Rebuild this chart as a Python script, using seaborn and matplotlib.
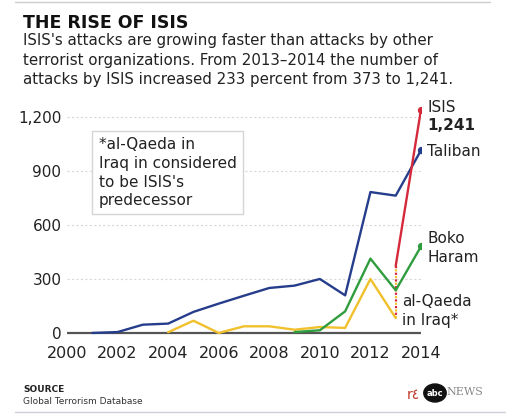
#!/usr/bin/env python3

import pandas as pd
import seaborn as sns
import matplotlib.pyplot as plt
from matplotlib.patches import Circle
from matplotlib.lines import Line2D

# attacks per year
taliban_years = [2001, 2002, 2003, 2004, 2005, 2006, 2007, 2008, 2009, 2010, 2011, 2012, 2013, 2014]
taliban = [0, 5, 46, 52, 117, 163, 207, 250, 263, 300, 209, 783, 763, 1015]

boko_years = [2009, 2010, 2011, 2012, 2013, 2014]
boko = [5, 15, 120, 413, 237, 481]

aqi_years = [2004, 2005, 2006, 2007, 2008, 2009, 2010, 2011, 2012, 2013]
aqi = [4, 68, 0, 37, 37, 18, 33, 28, 300, 83]

isis_years = [2013, 2014]
isis = [373, 1241]

x_ticks = [2000, 2002, 2004, 2006, 2008, 2010, 2012, 2014]
y_ticks = [0, 300, 600, 900, 1200]
y_labels = ['0', '300', '600', '900', '1,200']

BLUE = '#263d8c'
RED = '#d42a3c'
GREEN = '#2f9d3e'
YELLOW = '#f0c02d'


def make_plot():
    sns.set_style('white')
    plt.rcParams['font.family'] = ['DejaVu Sans']

    fig = plt.figure(figsize=(5.2, 4.18), dpi=100)
    ax = fig.add_axes([67 / 520, 1 - 338 / 418, (421 - 67) / 520, (338 - 99) / 418])

    # gridlines and baseline
    for y in y_ticks[1:]:
        ax.plot([2000, 2014], [y, y], ls=(0, (2, 2)), color='#d8d8d8', lw=0.8, zorder=1)
    ax.plot([2000, 2014], [0, 0], color='#555555', lw=1.6, zorder=2)

    df_aqi = pd.DataFrame({'year': aqi_years, 'attacks': aqi})
    df_boko = pd.DataFrame({'year': boko_years, 'attacks': boko})
    df_tal = pd.DataFrame({'year': taliban_years, 'attacks': taliban})
    df_isis = pd.DataFrame({'year': isis_years, 'attacks': isis})

    sns.lineplot(data=df_aqi, x='year', y='attacks', color=YELLOW, lw=1.7, ax=ax, zorder=3)
    sns.lineplot(data=df_boko, x='year', y='attacks', color=GREEN, lw=1.7, ax=ax, zorder=4)
    sns.lineplot(data=df_tal, x='year', y='attacks', color=BLUE, lw=1.7, ax=ax, zorder=5)
    sns.lineplot(data=df_isis, x='year', y='attacks', color=RED, lw=1.7, ax=ax, zorder=6)

    # dotted link between al-Qaeda in Iraq and ISIS in 2013
    ax.plot([isis_years[0], aqi_years[-1]], [isis[0], aqi[-1]], color=RED,
            lw=1.6, ls=(0, (1, 2)), zorder=3)
    ax.plot([isis_years[0], aqi_years[-1]], [isis[0], aqi[-1]], color=YELLOW,
            lw=1.6, ls=(1.5, (1, 2)), zorder=3)

    # end dots
    ax.scatter([isis_years[-1]], [isis[-1]], color=RED, s=18, zorder=7)
    ax.scatter([taliban_years[-1]], [taliban[-1]], color=BLUE, s=18, zorder=7)
    ax.scatter([boko_years[-1]], [boko[-1]], color=GREEN, s=18, zorder=7)

    ax.set_xlim(2000, 2014)
    ax.set_ylim(-28, 1300)
    ax.set_xticks(x_ticks)
    ax.set_xticklabels([str(x) for x in x_ticks], fontsize=11.5, color='#222222')
    ax.set_yticks(y_ticks)
    ax.set_yticklabels(y_labels, fontsize=11, color='#222222')
    ax.tick_params(length=0, pad=4)
    ax.tick_params(axis='x', pad=6)
    ax.set_xlabel('')
    ax.set_ylabel('')
    for s in ax.spines.values():
        s.set_visible(False)
    ax.patch.set_alpha(0)

    # series labels
    lab = dict(fontsize=11, color='#222222', va='center', ha='left')
    ax.text(2014.25, 1250, 'ISIS', **lab)
    ax.text(2014.25, 1150, '1,241', fontweight='bold', **lab)
    ax.text(2014.25, 1010, 'Taliban', **lab)
    ax.text(2014.25, 525, 'Boko', **lab)
    ax.text(2014.25, 420, 'Haram', **lab)
    ax.text(2013.25, 175, 'al-Qaeda', **lab)
    ax.text(2013.25, 72, 'in Iraq*', **lab)

    # note box
    ax.text(2001.25, 890, "*al-Qaeda in\nIraq in considered\nto be ISIS's\npredecessor",
            fontsize=11, color='#222222', va='center', ha='left', linespacing=1.3,
            bbox=dict(boxstyle='square,pad=0.4', fc='white', ec='#d5d5d5', lw=1))

    # header
    fig.text(23 / 520, 1 - 14 / 418, 'THE RISE OF ISIS', fontsize=12.5,
             fontweight='bold', va='top', ha='left', color='#111111')
    fig.text(23 / 520, 1 - 33 / 418,
             "ISIS's attacks are growing faster than attacks by other\n"
             "terrorist organizations. From 2013\u20132014 the number of\n"
             "attacks by ISIS increased 233 percent from 373 to 1,241.",
             fontsize=10.8, va='top', ha='left', color='#222222', linespacing=1.38)

    # footer
    fig.text(23 / 520, 1 - 389 / 418, 'SOURCE', fontsize=6.5, fontweight='bold',
             va='center', ha='left', color='#222222')
    fig.text(23 / 520, 1 - 401 / 418, 'Global Terrorism Database', fontsize=6.5,
             va='center', ha='left', color='#333333')

    # rules at top and bottom
    fig.add_artist(Line2D([15 / 520, 490 / 520], [1 - 1.5 / 418, 1 - 1.5 / 418],
                          color='#cccccc', lw=1))
    fig.add_artist(Line2D([15 / 520, 505 / 520], [1 - 412 / 418, 1 - 412 / 418],
                          color='#d0d0dc', lw=1))

    # abc news mark
    fig.add_artist(Circle((435 / 520, 1 - 393 / 418), 9 / 418, transform=fig.transFigure,
                          color='#111111', zorder=5))
    fig.text(435 / 520, 1 - 393 / 418, 'abc', fontsize=6, fontweight='bold',
             color='white', ha='center', va='center', zorder=6)
    fig.text(446 / 520, 1 - 392 / 418, 'NEWS', fontsize=8, color='#888888',
             ha='left', va='center', family='DejaVu Serif')
    fig.text(413 / 520, 1 - 395 / 418, 'r\u0664', fontsize=10, color='#c0392b',
             ha='center', va='center')

    fig.savefig('out.png', dpi=100)


if __name__ == '__main__':
    make_plot()
